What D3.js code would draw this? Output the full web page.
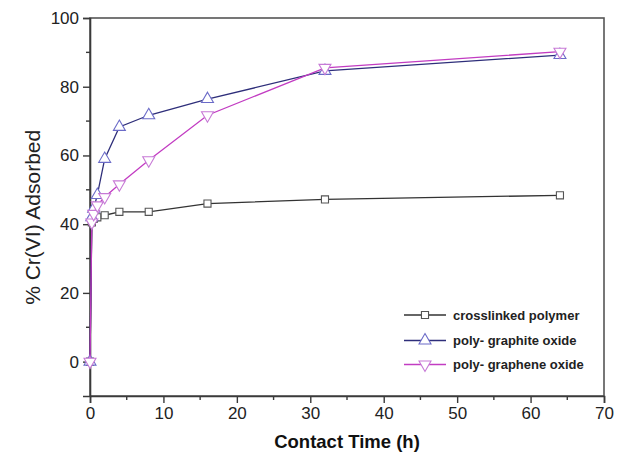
<!DOCTYPE html>
<html>
<head>
<meta charset="utf-8">
<script src="https://cdn.jsdelivr.net/npm/d3@7"></script>
<style>
  html, body { margin: 0; padding: 0; background: #fff; }
  svg { display: block; }
</style>
</head>
<body>
<svg id="chart" width="625" height="461"></svg>
<script>
// Contact time (h) and % Cr(VI) adsorbed for each material
const times = [0, 0.25, 0.5, 1, 2, 4, 8, 16, 32, 64];
const crosslinked = [0, 40.5, 41.5, 42, 42.6, 43.6, 43.6, 46, 47.2, 48.4];
const graphiteOxide = [0, 42, 44.5, 48.5, 59, 68.3, 71.7, 76.4, 84.6, 89.2];
const grapheneOxide = [0, 40.5, 43, 45.5, 47.9, 51.6, 58.6, 71.7, 85.5, 90.2];

const seriesNames = ["crosslinked polymer", "poly- graphite oxide", "poly- graphene oxide"];
const xTicks = [0, 10, 20, 30, 40, 50, 60, 70];
const yTicks = [0, 20, 40, 60, 80, 100];

const series = [
  { name: seriesNames[0], values: crosslinked, line: "#333333", mark: "#555555", shape: "square" },
  { name: seriesNames[1], values: graphiteOxide, line: "#2e2e7a", mark: "#6b6bc8", shape: "up" },
  { name: seriesNames[2], values: grapheneOxide, line: "#c23cc2", mark: "#c77ad6", shape: "down" }
];

const svg = d3.select("#chart");
const m = { left: 90, right: 604, top: 18, bottom: 396 };

const x = d3.scaleLinear().domain([0, 70]).range([m.left, m.right]);
const y = d3.scaleLinear().domain([-10, 100]).range([m.bottom, m.top]);

const font = "Liberation Sans, Arial, sans-serif";
const axisColor = "#3a3a3a";

// Plot frame
svg.append("rect")
  .attr("x", m.left).attr("y", m.top)
  .attr("width", m.right - m.left).attr("height", m.bottom - m.top)
  .attr("fill", "none").attr("stroke", "#555").attr("stroke-width", 1.6);

// Bottom axis: majors every 10, minors every 5
const xAxis = d3.axisBottom(x).tickValues(xTicks).tickSize(7).tickPadding(4);
const gx = svg.append("g").attr("transform", `translate(0,${m.bottom})`).call(xAxis);
gx.select(".domain").attr("stroke", axisColor).attr("stroke-width", 1.6);
gx.selectAll(".tick line").attr("stroke", axisColor).attr("stroke-width", 1.4);
gx.selectAll(".tick text").attr("font-family", font).attr("font-size", 17).attr("fill", "#222");
svg.append("g").selectAll("line")
  .data(d3.range(5, 70, 10)).join("line")
  .attr("x1", d => x(d)).attr("x2", d => x(d))
  .attr("y1", m.bottom).attr("y2", m.bottom + 4)
  .attr("stroke", axisColor).attr("stroke-width", 1.4);

// Left axis: majors every 20, minors every 10
const yAxis = d3.axisLeft(y).tickValues(yTicks).tickSize(7).tickPadding(4);
const gy = svg.append("g").attr("transform", `translate(${m.left},0)`).call(yAxis);
gy.select(".domain").attr("stroke", axisColor).attr("stroke-width", 1.6);
gy.selectAll(".tick line").attr("stroke", axisColor).attr("stroke-width", 1.4);
gy.selectAll(".tick text").attr("font-family", font).attr("font-size", 17).attr("fill", "#222");
svg.append("g").selectAll("line")
  .data([10, 30, 50, 70, 90]).join("line")
  .attr("x1", m.left - 4).attr("x2", m.left)
  .attr("y1", d => y(d)).attr("y2", d => y(d))
  .attr("stroke", axisColor).attr("stroke-width", 1.4);

// Axis titles
svg.append("text")
  .attr("x", 347).attr("y", 448)
  .attr("text-anchor", "middle")
  .attr("font-family", font).attr("font-size", 18.5).attr("font-weight", "bold")
  .attr("fill", "#111")
  .text("Contact Time (h)");

svg.append("text")
  .attr("transform", `translate(40,${y(42)}) rotate(-90)`)
  .attr("text-anchor", "middle")
  .attr("font-family", font).attr("font-size", 21)
  .attr("fill", "#222")
  .text("% Cr(VI) Adsorbed");

// Marker shapes
const symbolFor = shape => {
  if (shape === "square") return d3.symbol().type(d3.symbolSquare).size(50)();
  return d3.symbol().type(d3.symbolTriangle).size(62)();
};
const rotFor = shape => shape === "down" ? 180 : 0;

const line = d3.line().x((d, i) => x(times[i])).y(d => y(d));

series.forEach(s => {
  const g = svg.append("g");
  g.append("path")
    .datum(s.values)
    .attr("d", line)
    .attr("fill", "none")
    .attr("stroke", s.line)
    .attr("stroke-width", 1.3);
  g.selectAll("path.pt")
    .data(s.values).join("path")
    .attr("class", "pt")
    .attr("d", symbolFor(s.shape))
    .attr("transform", (d, i) => `translate(${x(times[i])},${y(d)}) rotate(${rotFor(s.shape)})`)
    .attr("fill", "#fff")
    .attr("stroke", s.mark)
    .attr("stroke-width", 1.1);
});

// Legend
const legendY = [315, 340.5, 364.5];
series.forEach((s, i) => {
  const g = svg.append("g").attr("transform", `translate(0,${legendY[i]})`);
  g.append("line")
    .attr("x1", 404).attr("x2", 446).attr("y1", 0).attr("y2", 0)
    .attr("stroke", s.line).attr("stroke-width", 1.3);
  g.append("path")
    .attr("d", symbolFor(s.shape))
    .attr("transform", `translate(425,0) rotate(${rotFor(s.shape)})`)
    .attr("fill", "#fff").attr("stroke", s.mark).attr("stroke-width", 1.1);
  g.append("text")
    .attr("x", 453).attr("y", 0).attr("dy", "0.35em")
    .attr("font-family", font).attr("font-size", 13).attr("font-weight", "bold")
    .attr("fill", "#222")
    .text(s.name);
});
</script>
</body>
</html>
